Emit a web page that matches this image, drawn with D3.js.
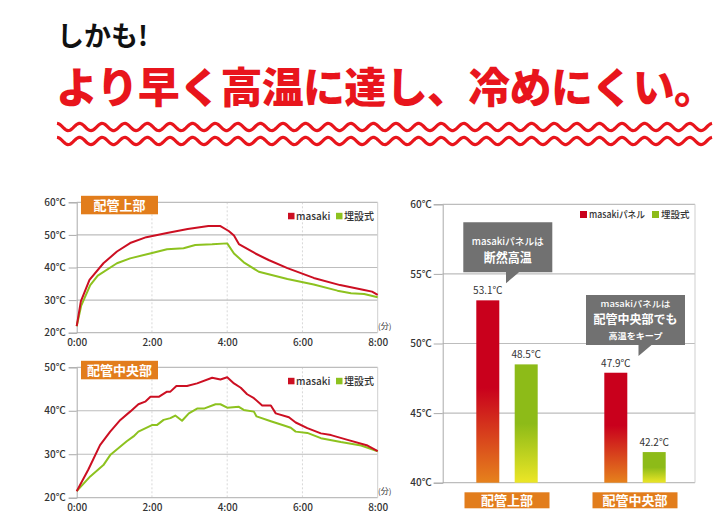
<!DOCTYPE html>
<html><head><meta charset="utf-8">
<script src="https://cdn.jsdelivr.net/npm/d3@7"></script>
<style>
body{margin:0;background:#fff}
svg{display:block}
text{font-family:"Noto Sans CJK JP","Noto Sans",sans-serif}
</style>
</head><body>
<svg id="c" width="728" height="522"></svg>
<script>
// ---------- data ----------
const headline1 = "しかも!";
const headline2 = "より早く高温に達し、冷めにくい。";
const seriesNames = ["masaki", "埋設式"];
const barSeriesNames = ["masakiパネル", "埋設式"];
const timeTicks = [0, 2, 4, 6, 8];           // minutes
const topTempTicks = [20, 30, 40, 50, 60];
const midTempTicks = [20, 30, 40, 50];
const barTempTicks = [40, 45, 50, 55, 60];

// [minute, temperature]
const topMasaki = [[0,22],[0.11,29.6],[0.34,36.2],[0.71,41.3],[1.07,44.9],[1.42,47.5],[1.85,49.3],[2.4,50.6],[2.95,51.8],[3.5,52.7],[3.82,52.7],[4.04,51.2],[4.18,49.8],[4.31,47.2],[4.75,44.3],[5.1,42.3],[5.6,39.8],[6.3,36.8],[7.0,34.6],[7.64,33.1],[7.85,32.6],[8,31.6]];
const topBuried = [[0,22],[0.12,28.3],[0.36,34.6],[0.56,37.5],[1.07,41.3],[1.42,42.8],[1.95,44.3],[2.4,45.6],[2.84,45.9],[3.15,46.9],[3.6,47.1],[4.0,47.4],[4.18,44.3],[4.44,41.6],[4.84,38.7],[5.6,36.5],[6.3,34.8],[6.93,32.9],[7.29,32.1],[7.64,31.9],[8,30.9]];
const midMasaki = [[0,21.5],[0.31,26.5],[0.62,32.1],[0.89,35.2],[1.16,37.9],[1.42,39.8],[1.64,41.5],[1.82,42.1],[1.96,43.2],[2.18,43.2],[2.4,44.4],[2.49,44.4],[2.65,45.7],[2.93,45.7],[3.2,46.3],[3.6,47.6],[3.82,47.2],[4.0,47.7],[4.18,46.3],[4.36,45.3],[4.53,43.8],[4.71,42.9],[4.93,41.2],[5.16,41.2],[5.29,39.4],[5.64,38.5],[5.82,37.3],[6.13,36.0],[6.49,34.8],[6.76,34.4],[7.2,33.3],[7.73,32.0],[8,30.7]];
const midBuried = [[0,21.5],[0.36,24.9],[0.71,27.5],[0.89,29.8],[1.33,33.0],[1.51,34.1],[1.64,35.2],[2.0,36.7],[2.13,36.7],[2.31,37.9],[2.49,38.3],[2.62,38.9],[2.8,37.7],[2.98,39.4],[3.2,40.5],[3.38,40.5],[3.69,41.5],[3.82,41.5],[4.0,40.7],[4.31,40.9],[4.44,40.2],[4.71,39.8],[4.78,38.7],[5.16,37.6],[5.51,36.6],[5.69,36.1],[5.82,35.2],[6.13,34.9],[6.49,33.7],[7.02,32.8],[7.56,32.0],[8,30.7]];

const barCategories = ["配管上部", "配管中央部"];
const barMasaki = [53.1, 47.9];
const barBuried = [48.5, 42.2];

// ---------- styles ----------
const RED = "#e8151c", LRED = "#cc0f22", LGREEN = "#8dc21f", ORANGE = "#e27d1c", GRAY = "#717171";
const svg = d3.select("#c");
const defs = svg.append("defs");
function grad(id, top, bottom, mid) {
  const g = defs.append("linearGradient").attr("id", id).attr("x1",0).attr("y1",0).attr("x2",0).attr("y2",1);
  g.append("stop").attr("offset", 0).attr("stop-color", top);
  g.append("stop").attr("offset", mid).attr("stop-color", top);
  g.append("stop").attr("offset", 1).attr("stop-color", bottom);
}
grad("gRed", "#c9001c", "#e6821c", 0.48);
grad("gGreen", "#8dbb18", "#ece626", 0.5);

// ---------- headline ----------
svg.append("text").attr("x", 57).attr("y", 46).attr("font-size", 27).attr("font-weight", 700)
  .attr("fill", "#111").text(headline1);
svg.append("text").attr("x", 56).attr("y", 103).attr("font-size", 42).attr("font-weight", 900)
  .attr("fill", RED).attr("textLength", 660).attr("lengthAdjust", "spacing").text(headline2);

// decorative waves
[127, 141].forEach(cy => {
  const period = 22.6;
  const pts = d3.range(0, 655.01, 1).map(dx => [57 + dx, cy + 3.6 * Math.cos((dx / period) * 2 * Math.PI + Math.PI)]);
  svg.append("path").attr("d", d3.line()(pts)).attr("fill", "none").attr("stroke", RED).attr("stroke-width", 3.2);
});

// ---------- line charts ----------
function lineChart(opt) {
  const g = svg.append("g");
  const x = d3.scaleLinear().domain([0, 8]).range([76.7, 377.7]);
  const y = d3.scaleLinear().domain(opt.domain).range([opt.bottom, opt.top]);
  g.selectAll(".vg").data(timeTicks.slice(1, -1)).join("line")
    .attr("x1", d => x(d)).attr("x2", d => x(d)).attr("y1", opt.top).attr("y2", opt.bottom)
    .attr("stroke", "#d8d8d8").attr("stroke-dasharray", "2,2");
  g.selectAll(".hg").data(opt.ticks).join("line")
    .attr("x1", x(0)).attr("x2", x(8)).attr("y1", d => y(d)).attr("y2", d => y(d))
    .attr("stroke", "#bdbdbd").attr("stroke-width", 1.2);
  g.append("line").attr("x1", x(8)).attr("x2", x(8)).attr("y1", opt.top).attr("y2", opt.bottom).attr("stroke", "#cfcfcf");
  const ya = d3.axisLeft(y).tickValues(opt.ticks).tickSize(8).tickPadding(3).tickFormat(d => d + "℃");
  const yg = g.append("g").attr("transform", `translate(${x(0)},0)`).call(ya);
  yg.select(".domain").attr("stroke", "#aaa");
  yg.selectAll(".tick line").attr("stroke", "#aaa");
  yg.selectAll("text").attr("font-size", 10).attr("fill", "#333").attr("font-weight", 500)
    .attr("font-family", '"Noto Sans CJK JP",sans-serif');
  const xa = d3.axisBottom(x).tickValues(timeTicks).tickSize(0).tickPadding(6).tickFormat(d => d + ":00");
  const xg = g.append("g").attr("transform", `translate(0,${opt.bottom})`).call(xa);
  xg.select(".domain").remove();
  xg.selectAll("text").attr("font-size", 10).attr("fill", "#333").attr("font-weight", 500)
    .attr("font-family", '"Noto Sans CJK JP",sans-serif');
  g.append("text").attr("x", 378).attr("y", opt.bottom - 4).attr("font-size", 8).attr("fill", "#333").text("(分)");
  const line = d3.line().x(d => x(d[0])).y(d => y(d[1]));
  g.append("path").datum(opt.buried).attr("d", line).attr("fill", "none").attr("stroke", LGREEN).attr("stroke-width", 2).attr("stroke-linejoin", "round");
  g.append("path").datum(opt.masaki).attr("d", line).attr("fill", "none").attr("stroke", LRED).attr("stroke-width", 2).attr("stroke-linejoin", "round");
  g.append("rect").attr("x", 81).attr("y", opt.top - 6.5).attr("width", 77).attr("height", 18.5).attr("fill", ORANGE);
  g.append("text").attr("x", 119.5).attr("y", opt.top + 7.8).attr("text-anchor", "middle").attr("font-size", 13)
    .attr("font-weight", 700).attr("fill", "#fff").text(opt.title);
  const ly = opt.top + 10.5;
  [[288, seriesNames[0], LRED], [336, seriesNames[1], LGREEN]].forEach(([lx, t, c]) => {
    g.append("rect").attr("x", lx).attr("y", ly).attr("width", 6.5).attr("height", 6.5).attr("fill", c);
    g.append("text").attr("x", lx + 8).attr("y", ly + 6.8).attr("font-size", 10).attr("font-weight", 500).attr("fill", "#333").text(t);
  });
}
lineChart({ top: 202.3, bottom: 332.7, domain: [20, 60], ticks: topTempTicks, masaki: topMasaki, buried: topBuried, title: barCategories[0] });
lineChart({ top: 367.3, bottom: 497.7, domain: [20, 50], ticks: midTempTicks, masaki: midMasaki, buried: midBuried, title: barCategories[1] });

// ---------- bar chart ----------
(function () {
  const g = svg.append("g");
  const left = 442.7, right = 695, top = 204.3, bottom = 482.7;
  const y = d3.scaleLinear().domain([40, 60]).range([bottom, top]);
  const xc = d3.scalePoint().domain(barCategories).range([507, 635]);
  const xs = d3.scalePoint().domain(barSeriesNames).range([-19.2, 19.2]);
  const bw = 23;
  g.selectAll(".hg").data(barTempTicks).join("line")
    .attr("x1", left).attr("x2", right).attr("y1", d => y(d)).attr("y2", d => y(d))
    .attr("stroke", "#bdbdbd").attr("stroke-width", 1.2);
  g.append("line").attr("x1", right).attr("x2", right).attr("y1", top).attr("y2", bottom).attr("stroke", "#cfcfcf");
  const ya = d3.axisLeft(y).tickValues(barTempTicks).tickSize(9).tickPadding(2).tickFormat(d => d + "℃");
  const yg = g.append("g").attr("transform", `translate(${left},0)`).call(ya);
  yg.select(".domain").attr("stroke", "#aaa");
  yg.selectAll(".tick line").attr("stroke", "#aaa");
  yg.selectAll("text").attr("font-size", 10).attr("fill", "#333").attr("font-weight", 500)
    .attr("font-family", '"Noto Sans CJK JP",sans-serif');

  const bars = [];
  barCategories.forEach((c, i) => {
    bars.push({ c, s: barSeriesNames[0], v: barMasaki[i], fill: "url(#gRed)" });
    bars.push({ c, s: barSeriesNames[1], v: barBuried[i], fill: "url(#gGreen)" });
  });
  g.selectAll(".bar").data(bars).join("rect")
    .attr("x", d => xc(d.c) + xs(d.s) - bw / 2).attr("width", bw)
    .attr("y", d => y(d.v)).attr("height", d => bottom - y(d.v)).attr("fill", d => d.fill);
  g.selectAll(".val").data(bars).join("text")
    .attr("x", d => xc(d.c) + xs(d.s)).attr("y", d => y(d.v) - 6)
    .attr("text-anchor", "middle").attr("font-size", 10).attr("fill", "#333").text(d => d.v.toFixed(1) + "℃");
  g.selectAll(".cb").data(barCategories).join("rect")
    .attr("x", d => xc(d) - 42.5).attr("y", 492.3).attr("width", 85).attr("height", 16).attr("fill", ORANGE);
  g.selectAll(".ct").data(barCategories).join("text")
    .attr("x", d => xc(d)).attr("y", 505).attr("text-anchor", "middle").attr("font-size", 13)
    .attr("font-weight", 700).attr("fill", "#fff").text(d => d);
  // legend
  [[580, barSeriesNames[0], "#c9001c", 56], [652, barSeriesNames[1], "#8dbb18", 0]].forEach(([lx, t, c, tl]) => {
    g.append("rect").attr("x", lx).attr("y", 211).attr("width", 7).attr("height", 7).attr("fill", c);
    const tx = g.append("text").attr("x", lx + 9).attr("y", 218).attr("font-size", 9.5).attr("font-weight", 500).attr("fill", "#333").text(t);
    if (tl) tx.attr("textLength", tl).attr("lengthAdjust", "spacingAndGlyphs");
  });
  // callouts
  function callout(bx, by, bwid, bh, px, lines) {
    g.append("path").attr("d", `M${bx},${by}H${bx + bwid}V${by + bh}H${px + 13}L${px},${by + bh + 11}V${by + bh}H${bx}Z`).attr("fill", GRAY);
    lines.forEach(l => {
      const t = g.append("text").attr("x", bx + bwid / 2).attr("y", l.y).attr("text-anchor", "middle")
        .attr("font-size", l.s).attr("font-weight", l.w).attr("fill", "#fff").text(l.t);
      if (l.len) t.attr("textLength", l.len).attr("lengthAdjust", "spacingAndGlyphs");
    });
  }
  callout(463.3, 222.3, 89, 50, 506, [
    { t: "masakiパネルは", y: 244.5, s: 9.5, w: 500, len: 72 },
    { t: "断然高温", y: 262, s: 13, w: 700, len: 48 }]);
  callout(586, 295, 99, 50, 638.5, [
    { t: "masakiパネルは", y: 306.5, s: 8.5, w: 500, len: 70 },
    { t: "配管中央部でも", y: 324, s: 12, w: 700, len: 84 },
    { t: "高温をキープ", y: 339, s: 8.5, w: 700, len: 54 }]);
})();
</script>
</body></html>
